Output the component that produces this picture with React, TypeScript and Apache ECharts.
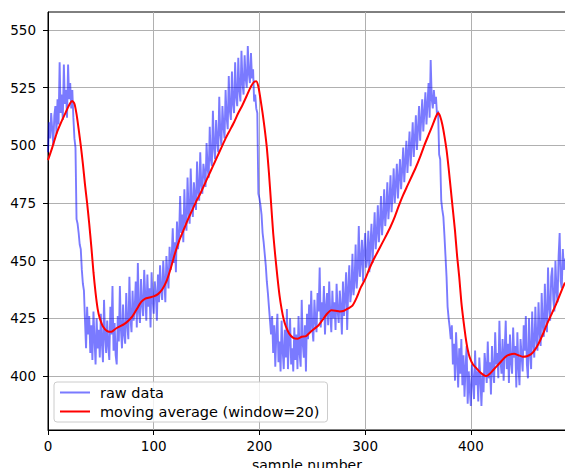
import React, { useEffect, useRef } from "react";
import * as echarts from "echarts";

// raw samples (index = sample number)
const rawA = [
  497, 510, 503, 514, 507, 500, 513, 517, 505, 520,
  509, 536, 514, 522, 511, 535, 518, 524, 512, 535,
  520, 527, 516, 524, 512, 503, 499, 468, 466, 462,
  457, 455, 446, 440, 437, 424, 412, 430, 418, 426,
  410, 422, 407, 428, 416, 405, 425, 412, 420, 408,
  427, 414, 406, 433, 417, 410, 424, 413, 407, 430,
  418, 439, 411, 423, 409, 405, 426, 415, 439, 420,
  412, 431, 418, 414, 436, 422, 416, 443, 425, 419,
  437, 424, 429, 441, 421, 449, 428, 423, 442, 431,
  426, 446, 435, 424, 444, 430, 438, 421, 445, 433,
];
const rawB = [
  427, 441, 436, 424, 444, 432, 448, 437, 433, 450,
  441, 432, 452, 444, 438, 456, 446, 451, 464, 449,
  458, 445, 467, 455, 461, 478, 462, 470, 458, 481,
  467, 463, 486, 471, 466, 490, 475, 469, 484, 478,
  472, 493, 480, 476, 497, 483, 479, 492, 488, 482,
  501, 490, 486, 508, 494, 491, 515, 499, 494, 511,
  502, 497, 521, 505, 500, 517, 508, 503, 524, 512,
  507, 530, 515, 511, 532, 518, 514, 536, 521, 517,
  538, 524, 519, 541, 527, 522, 539, 529, 525, 543,
  531, 527, 540, 529, 533, 519, 522, 516, 514, 479,
];
const rawC = [
  477, 474, 470, 462, 458, 453, 448, 441, 436, 430,
  424, 418, 426, 410, 422, 404, 418, 427, 406, 415,
  402, 424, 411, 403, 420, 408, 429, 403, 416, 425,
  405, 412, 402, 421, 407, 418, 403, 426, 410, 404,
  433, 414, 408, 422, 402, 427, 416, 431, 419, 437,
  421, 415, 433, 424, 419, 436, 428, 447, 421, 432,
  425, 439, 418, 430, 436, 422, 441, 427, 419, 437,
  425, 432, 420, 440, 428, 423, 437, 430, 418, 441,
  426, 434, 445, 420, 438, 448, 432, 437, 453, 435,
  441, 457, 438, 446, 465, 443, 450, 459, 441, 454,
];
const rawD = [
  462, 447, 451, 463, 445, 457, 466, 449, 460, 471,
  455, 462, 474, 458, 466, 478, 461, 469, 481, 465,
  472, 484, 468, 476, 487, 471, 479, 490, 475, 483,
  492, 477, 486, 494, 481, 489, 499, 484, 493, 502,
  488, 497, 506, 491, 500, 510, 495, 503, 513, 498,
  507, 517, 502, 511, 520, 506, 514, 523, 509, 518,
  527, 512, 537, 520, 516, 524, 518, 521, 513, 515,
  496, 494, 476, 472, 469, 461, 452, 443, 430, 425,
  421, 416, 422, 405, 414, 398, 419, 407, 395, 412,
  401, 416, 396, 409, 391, 404, 413, 388, 402, 394,
];
const rawE = [
  387, 405, 398, 390, 411, 396, 402, 389, 408, 399,
  387, 401, 393, 410, 404, 397, 415, 399, 406, 392,
  413, 402, 397, 419, 405, 410, 399, 424, 407, 401,
  416, 398, 411, 424, 403, 414, 397, 418, 406, 401,
  421, 408, 413, 395, 419, 404, 396, 416, 409, 402,
  422, 411, 426, 405, 399, 425, 410, 403, 428, 414,
  408, 430, 416, 411, 432, 419, 413, 436, 422, 417,
  440, 425, 419, 447, 430, 424, 443, 447, 433, 428,
  450, 437, 432, 452, 462, 441, 438, 455, 446, 451,
];
const rawData = [...rawA, ...rawB, ...rawC, ...rawD, ...rawE];

// moving average at these sample numbers
const maIndex = [
  0, 4, 8, 12, 16, 20, 23, 25, 27, 29, 31, 33, 35, 37, 39, 41, 43, 45, 47, 49,
  52, 56, 60, 64, 68, 72, 76, 80, 84, 88, 92, 96, 100, 104, 108, 112, 116, 120,
  124, 128, 132, 136, 140, 144, 148, 152, 156, 160, 164, 168, 172, 176, 180, 184,
  188, 192, 195, 197, 199, 201, 203, 205, 207, 209, 211, 213, 215, 217, 219, 221,
  223, 225, 228, 232, 236, 240, 244, 248, 252, 256, 260, 264, 268, 272, 276, 280,
  284, 288, 292, 296, 300, 304, 308, 312, 316, 320, 324, 328, 332, 336, 340, 344,
  348, 352, 356, 360, 364, 367, 369, 371, 373, 375, 377, 379, 381, 383, 385, 387,
  389, 391, 393, 395, 397, 399, 402, 405, 409, 413, 415, 418, 421, 425, 429, 433,
  437, 441, 445, 449, 453, 457, 460, 464, 468, 472, 476, 480, 484, 489,
];
const maValue = [
  493.6, 499, 505, 509.5, 513.5, 517.5, 519.2, 518, 513.5, 507, 500, 492, 483, 475, 466, 456, 445, 436, 429, 425,
  421.5, 419.5, 419.2, 420.5, 421.5, 422.5, 424, 426, 429, 432, 433.5, 434, 434.5, 435.5, 437.5, 441, 446.5, 453,
  458.5, 463, 467.5, 471.5, 475.5, 479, 483, 487, 491, 495, 499, 503, 506.5, 510, 514, 517.5,
  521.5, 525.5, 527.5, 527.8, 525.5, 520, 514, 507, 499, 488, 475, 462, 452, 443, 435, 429,
  424.5, 421.5, 418.5, 416.5, 416.2, 417, 417.3, 419, 420.5, 422, 424.5, 427, 428.5, 428.3, 428, 428.3,
  429.3, 430.5, 434, 438.5, 442, 446.5, 450.5, 454, 457.5, 461, 464.7, 469, 474, 478.5, 482.5, 486.5,
  490.5, 495, 500, 504.5, 509, 512.5, 514, 512.5, 509, 504, 498, 490, 481, 472, 463, 452,
  443, 432, 424, 417, 411.5, 408, 405, 403.5, 401.5, 400.2, 400, 401, 402.5, 404.5, 406.5, 408.4,
  409.3, 409.6, 409, 408.4, 408.6, 409.5, 411, 414, 418, 422.5, 426.5, 430.5, 435, 440.5,
];

const yTicks = [400, 425, 450, 475, 500, 525, 550];
const seriesNames = ["raw data", "moving average (window=20)"];
const xLabel = "sample number";

// legend handle: a 30px line followed by a blank 5px, so text starts 10px after it
const legendIcon = "path://M0,0 L30,0 L30,2 L0,2 Z M34.99,0 L35,0 L35,2 L34.99,2 Z";

export default function App() {
  const ref = useRef<HTMLDivElement>(null);
  useEffect(() => {
    const chart = echarts.init(ref.current!, null, { renderer: "svg" });
    const font = "DejaVu Sans";
    chart.setOption({
      animation: false,
      backgroundColor: "#ffffff",
      textStyle: { fontFamily: font },
      grid: {
        left: 48,
        top: 12,
        width: 518,
        height: 418,
        show: true,
        borderColor: "#000",
        borderWidth: 1,
        backgroundColor: "transparent",
      },
      xAxis: {
        type: "value",
        min: 0,
        max: 490,
        interval: 100,
        name: xLabel,
        nameLocation: "middle",
        nameGap: 26,
        nameTextStyle: { fontSize: 14, color: "#000", fontFamily: font },
        axisLine: { show: true, lineStyle: { color: "#000", width: 1 } },
        axisTick: { show: true, length: 5, lineStyle: { color: "#000", width: 1 } },
        axisLabel: { fontSize: 13.5, color: "#000", margin: 9, showMaxLabel: false, fontFamily: font },
        splitLine: { show: true, lineStyle: { color: "#b0b0b0", width: 1 } },
      },
      yAxis: {
        type: "value",
        min: 376.6,
        max: 557.8,
        axisLine: { show: true, lineStyle: { color: "#000", width: 1 } },
        axisTick: { show: true, length: 5, lineStyle: { color: "#000", width: 1 }, customValues: yTicks },
        axisLabel: { fontSize: 13.5, color: "#000", margin: 12, fontFamily: font, customValues: yTicks },
        splitLine: { show: true, lineStyle: { color: "#b0b0b0", width: 1 } },
      },
      legend: {
        orient: "vertical",
        left: 54,
        top: 382,
        icon: legendIcon,
        itemWidth: 35,
        itemHeight: 2,
        itemGap: 4,
        padding: [3, 8, 3, 6],
        backgroundColor: "rgba(255,255,255,0.8)",
        borderColor: "#cccccc",
        borderWidth: 1,
        borderRadius: 3,
        textStyle: { fontSize: 14.5, color: "#000", fontFamily: font, lineHeight: 15 },
        data: seriesNames,
      },
      series: [
        {
          name: seriesNames[0],
          type: "line",
          data: rawData.map((v, i) => [i, v]),
          symbol: "none",
          showSymbol: false,
          lineStyle: { color: "rgba(0,0,255,0.52)", width: 1.9 },
          itemStyle: { color: "rgba(0,0,255,0.52)" },
          z: 2,
        },
        {
          name: seriesNames[1],
          type: "line",
          data: maIndex.map((x, k) => [x, maValue[k]]),
          symbol: "none",
          showSymbol: false,
          smooth: 0.2,
          lineStyle: { color: "#ff0000", width: 2 },
          itemStyle: { color: "#ff0000" },
          z: 3,
        },
      ],
    });
    return () => chart.dispose();
  }, []);
  return (
    <div
      style={{
        position: "fixed",
        left: 0,
        top: 0,
        width: 565,
        height: 468,
        overflow: "hidden",
        background: "#fff",
      }}
    >
      <div ref={ref} style={{ width: 570, height: 490 }} />
    </div>
  );
}
